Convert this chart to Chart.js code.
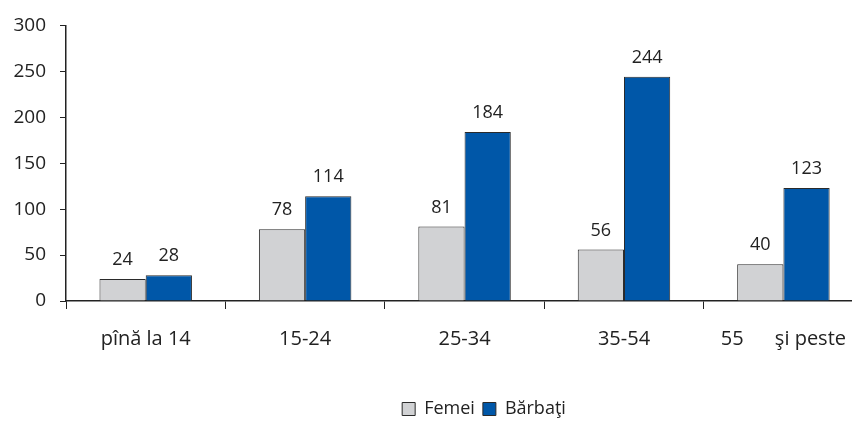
<!DOCTYPE html>
<html>
<head>
<meta charset="utf-8">
<script src="https://cdn.jsdelivr.net/npm/chart.js@4/dist/chart.umd.min.js"></script>
<style>
  html, body { margin: 0; padding: 0; background: #fff; overflow: hidden; }
  #wrap { width: 852px; height: 428px; overflow: hidden; }
  #box { width: 864px; height: 428px; }
</style>
</head>
<body>
<div id="wrap"><div id="box"><canvas id="c"></canvas></div></div>
<script>
// data
const categories = ['pînă la 14', '15-24', '25-34', '35-54', '55      şi peste'];
const femei = [24, 78, 81, 56, 40];
const barbati = [28, 114, 184, 244, 123];
const yTicks = [0, 50, 100, 150, 200, 250, 300];

const font = 'Open Sans';

// numbers above the bars
const valueLabels = {
  id: 'valueLabels',
  afterDatasetsDraw(chart) {
    const ctx = chart.ctx;
    ctx.save();
    ctx.font = '18px "' + font + '"';
    ctx.fillStyle = '#222';
    ctx.textAlign = 'center';
    ctx.textBaseline = 'bottom';
    chart.data.datasets.forEach(function(ds, i) {
      chart.getDatasetMeta(i).data.forEach(function(bar, j) {
        ctx.fillText(ds.data[j], bar.x, bar.y - 10);
      });
    });
    ctx.restore();
  }
};

// legend sits a bit right of centre in the original
const legendShift = {
  id: 'legendShift',
  afterLayout(chart) {
    chart.legend.left += 52;
    chart.legend.right += 52;
  }
};

new Chart(document.getElementById('c'), {
  type: 'bar',
  data: {
    labels: categories,
    datasets: [{
      label: 'Femei',
      data: femei,
      backgroundColor: '#d1d2d4',
      borderColor: '#2a2a2a',
      borderWidth: 1
    }, {
      label: 'Bărbaţi',
      data: barbati,
      backgroundColor: '#0057a8',
      borderColor: '#2a2a2a',
      borderWidth: 1
    }]
  },
  options: {
    animation: false,
    responsive: true,
    maintainAspectRatio: false,
    layout: { padding: { top: 14, right: 0, left: 0, bottom: 0 } },
    plugins: {
      legend: {
        position: 'bottom',
        labels: {
          boxWidth: 13,
          boxHeight: 13,
          padding: 8,
          color: '#222',
          font: { family: font, size: 18 }
        }
      },
      tooltip: { enabled: false }
    },
    datasets: { bar: { categoryPercentage: 0.58, barPercentage: 1 } },
    scales: {
      x: {
        grid: { display: true, drawOnChartArea: false, offset: true, color: '#222', tickLength: 8 },
        border: { color: '#222', width: 1.5 },
        ticks: { color: '#222', padding: 18, maxRotation: 0, font: { family: font, size: 20 } },
        afterFit(scale) { scale.height = 91; }
      },
      y: {
        min: 0,
        max: 300,
        afterBuildTicks(scale) { scale.ticks = yTicks.map(function(v) { return { value: v }; }); },
        grid: { display: true, drawOnChartArea: false, color: '#222', tickLength: 6 },
        border: { color: '#222', width: 1.5 },
        ticks: { color: '#222', padding: 14, font: { family: font, size: 19 } },
        afterFit(scale) { scale.width = 66; }
      }
    }
  },
  plugins: [valueLabels, legendShift]
});
</script>
</body>
</html>
